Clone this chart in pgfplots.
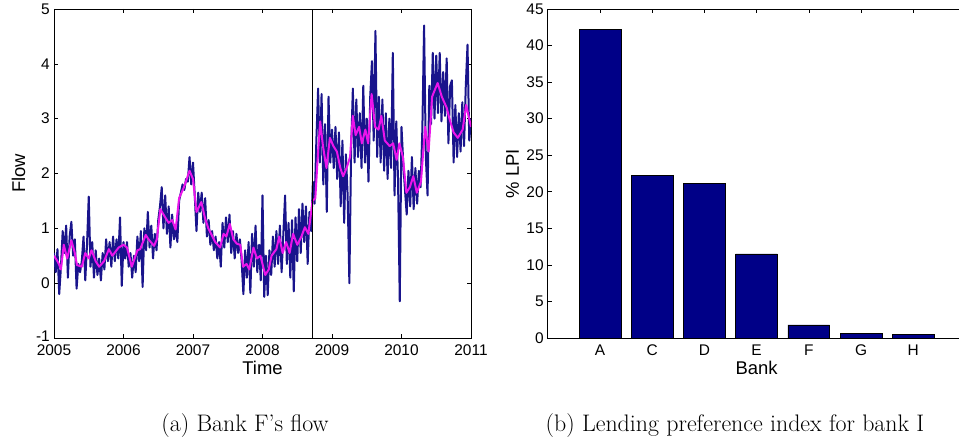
\documentclass[border=0pt]{standalone}
\usepackage{pgfplots}
\pgfplotsset{compat=1.18}
\usepackage{pgfplotstable}
\usepackage{fontspec}
\newfontfamily\arialf{Liberation Sans}
\definecolor{flowblue}{RGB}{25,20,140}
\definecolor{flowmag}{RGB}{235,20,235}
\definecolor{barblue}{RGB}{0,0,135}

\pgfplotstableread{
x y
2005.000 0.55
2005.025 0.20
2005.050 0.62
2005.075 -0.20
2005.100 0.30
2005.125 0.95
2005.150 0.55
2005.175 1.05
2005.200 0.10
2005.225 0.85
2005.250 1.12
2005.275 0.50
2005.300 0.80
2005.325 -0.10
2005.350 0.35
2005.375 0.20
2005.400 0.40
2005.425 0.85
2005.450 0.05
2005.475 0.70
2005.500 1.58
2005.525 0.30
2005.550 0.75
2005.575 0.10
2005.600 0.60
2005.625 0.15
2005.650 0.45
2005.675 0.05
2005.700 0.55
2005.725 0.25
2005.750 0.80
2005.775 0.40
2005.800 0.75
2005.825 0.30
2005.850 0.85
2005.875 0.40
2005.900 0.80
2005.925 0.45
2005.950 1.20
2005.975 -0.05
2006.000 0.75
2006.025 0.45
2006.050 0.75
2006.075 0.30
2006.100 0.55
2006.125 0.10
2006.150 0.50
2006.175 0.20
2006.200 0.85
2006.225 0.40
2006.250 0.95
2006.275 -0.07
2006.300 1.00
2006.325 0.60
2006.350 1.30
2006.375 0.65
2006.400 1.05
2006.425 0.45
2006.450 0.90
2006.475 0.60
2006.500 1.15
2006.525 1.40
2006.550 1.75
2006.575 1.00
2006.600 1.60
2006.625 0.90
2006.650 1.40
2006.675 0.65
2006.700 1.25
2006.725 0.80
2006.750 1.00
2006.775 0.75
2006.800 1.50
2006.825 1.65
2006.850 1.80
2006.875 1.70
2006.900 1.90
2006.925 1.85
2006.950 2.30
2006.975 1.80
2007.000 2.20
2007.025 1.60
2007.050 0.95
2007.075 1.65
2007.100 1.30
2007.125 1.65
2007.150 1.10
2007.175 1.55
2007.200 0.85
2007.225 1.15
2007.250 0.70
2007.275 0.95
2007.300 0.60
2007.325 0.85
2007.350 0.45
2007.375 0.75
2007.400 0.30
2007.425 1.10
2007.450 0.65
2007.475 1.20
2007.500 0.75
2007.525 1.25
2007.550 0.55
2007.575 0.95
2007.600 0.45
2007.625 0.90
2007.650 0.55
2007.675 0.80
2007.700 0.40
2007.725 -0.20
2007.750 0.60
2007.775 0.10
2007.800 0.75
2007.825 -0.18
2007.850 0.90
2007.875 0.30
2007.900 1.05
2007.925 0.20
2007.950 0.70
2007.975 0.05
2008.000 1.60
2008.025 -0.25
2008.050 0.50
2008.075 -0.22
2008.100 0.60
2008.125 0.15
2008.150 0.85
2008.175 0.30
2008.200 0.95
2008.225 0.35
2008.250 1.05
2008.275 0.20
2008.300 0.90
2008.325 1.60
2008.350 0.35
2008.375 1.10
2008.400 0.10
2008.425 1.15
2008.450 -0.15
2008.475 1.20
2008.500 0.40
2008.525 1.35
2008.550 0.55
2008.575 1.45
2008.600 0.75
2008.625 1.40
2008.650 0.35
2008.675 1.30
2008.700 0.95
2008.725 1.85
2008.750 1.45
2008.775 2.60
2008.800 3.55
2008.825 2.20
2008.850 3.45
2008.875 1.80
2008.900 2.90
2008.925 1.30
2008.950 3.40
2008.975 2.20
2009.000 2.80
2009.025 2.10
2009.050 2.85
2009.075 1.90
2009.100 2.75
2009.125 1.40
2009.150 2.60
2009.175 1.10
2009.200 2.35
2009.225 1.60
2009.250 0.00
2009.275 2.45
2009.300 3.55
2009.325 2.20
2009.350 3.35
2009.375 2.30
2009.400 3.10
2009.425 2.10
2009.450 3.60
2009.475 2.20
2009.500 3.00
2009.525 1.85
2009.550 3.40
2009.575 4.05
2009.600 2.60
2009.625 4.60
2009.650 2.30
2009.675 3.40
2009.700 2.20
2009.725 3.35
2009.750 2.05
2009.775 3.10
2009.800 1.90
2009.825 3.00
2009.850 2.10
2009.875 4.20
2009.900 1.60
2009.925 2.95
2009.950 1.90
2009.975 -0.33
2010.000 2.85
2010.025 2.20
2010.050 1.70
2010.075 1.25
2010.100 2.05
2010.125 1.40
2010.150 2.30
2010.175 1.35
2010.200 2.10
2010.225 1.45
2010.250 2.05
2010.275 1.75
2010.300 2.80
2010.325 4.70
2010.350 2.30
2010.375 1.60
2010.400 3.60
2010.425 2.90
2010.450 4.20
2010.475 3.00
2010.500 4.15
2010.525 3.10
2010.550 4.20
2010.575 2.95
2010.600 3.85
2010.625 3.05
2010.650 4.10
2010.675 2.55
2010.700 3.60
2010.725 3.70
2010.750 2.20
2010.775 3.25
2010.800 2.30
2010.825 3.10
2010.850 2.40
2010.875 3.30
2010.900 2.50
2010.925 3.60
2010.950 4.35
2010.975 2.60
2011.000 3.00
}\flowraw

\pgfplotstableread{
x y
2005.00 0.50
2005.04 0.42
2005.07 0.35
2005.10 0.25
2005.14 0.70
2005.19 0.45
2005.25 0.78
2005.30 0.55
2005.33 0.33
2005.40 0.30
2005.45 0.55
2005.50 0.45
2005.54 0.60
2005.60 0.40
2005.65 0.30
2005.72 0.40
2005.79 0.62
2005.84 0.50
2005.93 0.65
2006.00 0.70
2006.05 0.65
2006.12 0.30
2006.20 0.60
2006.24 0.62
2006.32 0.88
2006.36 0.80
2006.44 0.68
2006.48 0.80
2006.53 1.35
2006.60 1.20
2006.65 1.10
2006.70 1.15
2006.75 0.98
2006.80 1.55
2006.87 1.75
2006.95 2.05
2007.00 1.90
2007.05 1.30
2007.12 1.48
2007.17 1.20
2007.22 1.00
2007.32 0.75
2007.39 0.65
2007.44 0.90
2007.48 0.85
2007.53 1.08
2007.58 0.80
2007.63 0.72
2007.68 0.70
2007.72 0.30
2007.77 0.35
2007.81 0.25
2007.87 0.65
2007.92 0.45
2007.97 0.50
2008.04 0.15
2008.09 0.25
2008.13 0.50
2008.20 0.62
2008.24 0.85
2008.29 0.55
2008.34 0.75
2008.39 0.55
2008.44 0.90
2008.50 0.70
2008.56 0.85
2008.61 1.02
2008.66 0.90
2008.72 1.50
2008.76 1.55
2008.80 2.40
2008.83 2.95
2008.87 2.50
2008.92 2.10
2008.97 2.65
2009.02 2.50
2009.07 2.40
2009.12 2.10
2009.16 1.95
2009.21 2.10
2009.26 2.30
2009.30 3.05
2009.34 2.70
2009.39 2.85
2009.43 2.55
2009.48 2.80
2009.52 2.55
2009.57 3.45
2009.62 2.85
2009.67 2.80
2009.71 3.05
2009.76 2.60
2009.83 2.50
2009.88 2.55
2009.93 2.25
2009.97 2.55
2010.02 2.30
2010.07 1.65
2010.12 1.75
2010.17 1.95
2010.22 1.65
2010.28 1.85
2010.34 2.85
2010.39 2.40
2010.44 3.40
2010.52 3.65
2010.58 3.40
2010.65 3.20
2010.69 3.00
2010.75 2.75
2010.81 2.65
2010.88 2.80
2010.93 3.25
2011.00 2.85
}\flowsmooth

\pgfplotsset{
  mystyle/.style={
    scale only axis,
    axis line style={line width=0.8bp},
    tick align=inside,
    major tick length=4bp,
    tick style={line width=0.6bp, black},
    /pgf/number format/assume math mode=true,
    /pgf/number format/1000 sep={},
    tick label style={font=\arialf\fontsize{15.5}{18}\selectfont},
    xticklabel style={inner sep=0pt, anchor=north, yshift=-7bp},
    yticklabel style={inner sep=0pt, anchor=east, xshift=-4bp},
    label style={font=\arialf\fontsize{18.5}{22}\selectfont, inner sep=0pt},
    xlabel style={at={(axis description cs:0.5,0)}, anchor=north, yshift=-23bp},
  }
}

\begin{document}
\begin{tikzpicture}
\useasboundingbox (0bp,0bp) rectangle (959bp,441bp);

\begin{axis}[mystyle,
  at={(54bp,103bp)}, anchor=south west,
  width=417bp, height=329bp,
  xmin=2005, xmax=2011, ymin=-1, ymax=5,
  xtick={2005,2006,2007,2008,2009,2010,2011},
  ytick={-1,0,1,2,3,4,5},
  yticklabels={\raisebox{3bp}{-1},0,1,2,3,4,5},
  xlabel={Time}, ylabel={Flow},
  ylabel style={at={(axis description cs:-0.085,0.5)}, anchor=center},
]
\addplot[flowblue, line width=2bp, line join=round] table[x=x,y=y] {\flowraw};
\addplot[flowmag, line width=2bp, line join=round] table[x=x,y=y] {\flowsmooth};
\addplot[black, line width=1.3bp] coordinates {(2008.72,-1) (2008.72,5)};
\end{axis}

\begin{axis}[mystyle,
  at={(547.8bp,103bp)}, anchor=south west,
  width=417.6bp, height=329bp,
  xmin=0, xmax=8, ymin=0, ymax=45,
  xtick={1,2,3,4,5,6,7},
  xticklabels={A,C,D,E,F,G,H},
  ytick={0,5,10,15,20,25,30,35,40,45},
  xlabel={Bank}, ylabel={\% LPI},
  ylabel style={at={(axis description cs:-0.0845,0.5)}, anchor=center},
]
\addplot[ybar, bar width=0.8, fill=barblue, draw=black, line width=0.5bp]
  coordinates {(1,42.2) (2,22.2) (3,21.2) (4,11.5) (5,1.8) (6,0.6) (7,0.5)};
\end{axis}

\node[anchor=base, font=\fontsize{24}{29}\selectfont] at (245bp,9.6bp) {(a) Bank F's flow};
\node[anchor=base, font=\fontsize{24}{29}\selectfont] at (735bp,9.6bp) {(b) Lending preference index for bank I};
\end{tikzpicture}
\end{document}
